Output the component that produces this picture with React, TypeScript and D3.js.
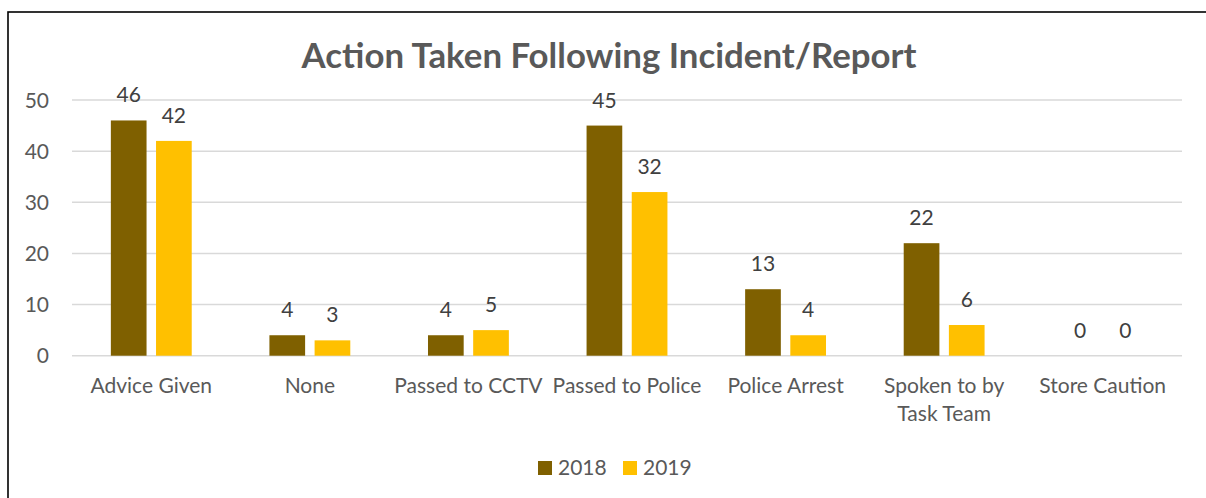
import React, { useEffect, useRef } from "react";
import * as d3 from "d3";

const categories = [
  "Advice Given",
  "None",
  "Passed to CCTV",
  "Passed to Police",
  "Police Arrest",
  "Spoken to by Task Team",
  "Store Caution",
];
const years = ["2018", "2019"];
const values2018 = [46, 4, 4, 45, 13, 22, 0];
const values2019 = [42, 3, 5, 32, 4, 6, 0];
const yTicks = [0, 10, 20, 30, 40, 50];
const colors = ["#7F6000", "#FFC000"];

// long labels get wrapped on two lines, like the original
const labelLines: Record<string, string[]> = {
  "Spoken to by Task Team": ["Spoken to by", "Task Team"],
};

function App() {
  const svgRef = useRef<SVGSVGElement>(null);
  const W = 1206;
  const H = 498;

  useEffect(() => {
    const svg = d3.select(svgRef.current);
    svg.selectAll("*").remove();
    const font = "Lato, 'Open Sans', sans-serif";
    const fs = 21;

    const left = 72;
    const right = 1182;
    const top = 100;
    const bottom = 355.7;

    // chart border
    svg
      .append("rect")
      .attr("x", 8)
      .attr("y", 12)
      .attr("width", 1220)
      .attr("height", 520)
      .attr("fill", "white")
      .attr("stroke", "black")
      .attr("stroke-width", 1.6);

    const x = d3.scaleBand().domain(categories).range([left, right]).paddingInner(0.49).paddingOuter(0.245);
    const xInner = d3.scaleBand().domain(years).range([0, x.bandwidth()]).paddingInner(0.21);
    const y = d3.scaleLinear().domain([0, 50]).range([bottom, top]);

    // gridlines
    svg
      .append("g")
      .selectAll("line")
      .data(yTicks)
      .enter()
      .append("line")
      .attr("x1", left)
      .attr("x2", right)
      .attr("y1", (d) => y(d))
      .attr("y2", (d) => y(d))
      .attr("stroke", "#D9D9D9")
      .attr("stroke-width", 1.5);

    // y labels
    svg
      .append("g")
      .selectAll("text")
      .data(yTicks)
      .enter()
      .append("text")
      .attr("x", 49)
      .attr("y", (d) => y(d) + 7.5)
      .attr("text-anchor", "end")
      .attr("font-family", font)
      .attr("font-size", fs)
      .attr("fill", "#595959")
      .text((d) => d);

    const series = [values2018, values2019];
    series.forEach((vals, si) => {
      const g = svg.append("g");
      g.selectAll("rect")
        .data(vals)
        .enter()
        .append("rect")
        .attr("x", (d, i) => x(categories[i])! + xInner(years[si])!)
        .attr("y", (d) => y(d))
        .attr("width", xInner.bandwidth())
        .attr("height", (d) => bottom - y(d))
        .attr("fill", colors[si]);
      g.selectAll("text")
        .data(vals)
        .enter()
        .append("text")
        .attr("x", (d, i) => x(categories[i])! + xInner(years[si])! + xInner.bandwidth() / 2)
        .attr("y", (d) => y(d) - 18)
        .attr("text-anchor", "middle")
        .attr("font-family", font)
        .attr("font-size", fs)
        .attr("fill", "#404040")
        .text((d) => d);
    });

    // category labels
    const cat = svg
      .append("g")
      .selectAll("text")
      .data(categories)
      .enter()
      .append("text")
      .attr("x", (d) => x(d)! + x.bandwidth() / 2)
      .attr("y", 393)
      .attr("text-anchor", "middle")
      .attr("font-family", font)
      .attr("font-size", fs)
      .attr("fill", "#595959");
    cat.each(function (d) {
      const lines = labelLines[d] || [d];
      const t = d3.select(this);
      lines.forEach((l, i) => {
        t.append("tspan")
          .attr("x", x(d)! + x.bandwidth() / 2)
          .attr("dy", i === 0 ? 0 : 28)
          .text(l);
      });
    });

    // title
    svg
      .append("text")
      .attr("x", 609)
      .attr("y", 68)
      .attr("text-anchor", "middle")
      .attr("font-family", font)
      .attr("font-weight", "bold")
      .attr("font-size", 34.8)
      .attr("fill", "#595959")
      .text("Action Taken Following Incident/Report");

    // legend
    const legendX = [538, 623];
    const lg = svg.append("g");
    years.forEach((yr, i) => {
      lg.append("rect")
        .attr("x", legendX[i])
        .attr("y", 461)
        .attr("width", 14)
        .attr("height", 14)
        .attr("fill", colors[i]);
      lg.append("text")
        .attr("x", legendX[i] + 20)
        .attr("y", 475)
        .attr("font-family", font)
        .attr("font-size", fs)
        .attr("fill", "#595959")
        .text(yr);
    });
  }, []);

  return (
    <svg
      ref={svgRef}
      width={W}
      height={H}
      style={{ position: "absolute", left: 0, top: 0, display: "block" }}
    ></svg>
  );
}

export default App;
